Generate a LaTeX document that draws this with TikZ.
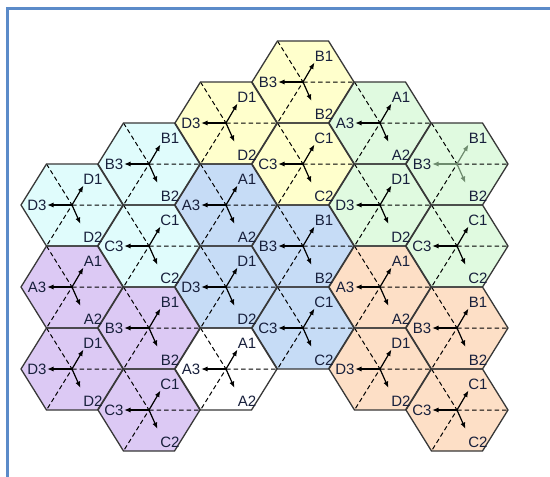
\documentclass[tikz,border=0pt]{standalone}
\usepackage{fontspec}
\setmainfont{Liberation Sans}
\usetikzlibrary{arrows.meta,calc}
\definecolor{yel}{HTML}{FFFFCC}
\definecolor{grn}{HTML}{E0FAE0}
\definecolor{cyn}{HTML}{E0FCFC}
\definecolor{blu}{HTML}{C6DCF6}
\definecolor{pur}{HTML}{DCC9F4}
\definecolor{org}{HTML}{FDDFC6}
\definecolor{edge}{HTML}{383838}
\definecolor{framec}{HTML}{5B8BC9}
\definecolor{grayarrow}{HTML}{6E8B6E}
\definecolor{txt}{HTML}{18203C}
\tikzset{
  hexline/.style={draw=edge, line width=1.3pt, line join=round},
  dashln/.style={draw=black, line width=1pt, dash pattern=on 4.5pt off 3pt},
  ant/.style={line width=1.2pt, -{Latex[length=6.5pt,width=5pt]}},
  lbl/.style={font=\fontsize{15}{16}\selectfont, text=txt, inner sep=0pt},
  framel/.style={draw=framec, line width=2.2pt}
}
\def\cells{Ya/3/0/yel/B/black, Yb/2/1/yel/D/black, Yc/3/2/yel/C/black,
 Ga/4/1/grn/A/black, Gb/5/2/grn/B/grayarrow, Gc/4/3/grn/D/black, Gd/5/4/grn/C/black,
 Ca/1/2/cyn/B/black, Cb/0/3/cyn/D/black, Cc/1/4/cyn/C/black,
 Ba/2/3/blu/A/black, Bb/3/4/blu/B/black, Bc/2/5/blu/D/black, Bd/3/6/blu/C/black,
 Pa/0/5/pur/A/black, Pb/1/6/pur/B/black, Pc/0/7/pur/D/black, Pd/1/8/pur/C/black,
 Wa/2/7/white/A/black,
 Oa/4/5/org/A/black, Ob/5/6/org/B/black, Oc/4/7/org/D/black, Od/5/8/org/C/black}
\begin{document}
\begin{tikzpicture}[x=1pt,y=-1pt]
\useasboundingbox (0,0) rectangle (550,477);
\fill[white] (0,0) rectangle (550,477);
\draw[framel] (7.5,477) -- (7.5,8.5) -- (550,8.5);
% centres
\foreach \nm/\col/\row/\fc/\lt/\ac in \cells {
  \coordinate (\nm) at ({72+77*\col},{82+41*\row});
}
% fills
\foreach \nm/\col/\row/\fc/\lt/\ac in \cells {
  \fill[\fc] (\nm) ++(51,0) -- ++(-25.5,-41) -- ++(-51,0) -- ++(-25.5,41) -- ++(25.5,41) -- ++(51,0) -- cycle;
}
% dashed sector lines
\foreach \nm/\col/\row/\fc/\lt/\ac in \cells {
  \draw[dashln] (\nm) ++(-25.5,-41) -- (\nm) -- ++(-25.5,41) (\nm) -- ++(51,0);
}
% outlines
\foreach \nm/\col/\row/\fc/\lt/\ac in \cells {
  \draw[hexline] (\nm) ++(51,0) -- ++(-25.5,-41) -- ++(-51,0) -- ++(-25.5,41) -- ++(25.5,41) -- ++(51,0) -- cycle;
}
% antenna arrows
\foreach \nm/\col/\row/\fc/\lt/\ac in \cells {
  \path (\nm) ++(11.5,-19.5) coordinate (\nm e1);
  \path (\nm) ++(8.5,19) coordinate (\nm e2);
  \path (\nm) ++(-25,0) coordinate (\nm e3);
  \draw[ant,draw=\ac,fill=\ac] (\nm) -- (\nm e1);
  \draw[ant,draw=\ac,fill=\ac] (\nm) -- (\nm e2);
  \draw[ant,draw=\ac,fill=\ac] (\nm) -- (\nm e3);
}
% labels
\foreach \nm/\col/\row/\fc/\lt/\ac in \cells {
  \node[lbl] (\nm l1) at ($(\nm)+(21,-26)$) {\lt1};
  \node[lbl] (\nm l2) at ($(\nm)+(21,32)$) {\lt2};
  \node[lbl] (\nm l3) at ($(\nm)+(-35,0.5)$) {\lt3};
}
\end{tikzpicture}
\end{document}
